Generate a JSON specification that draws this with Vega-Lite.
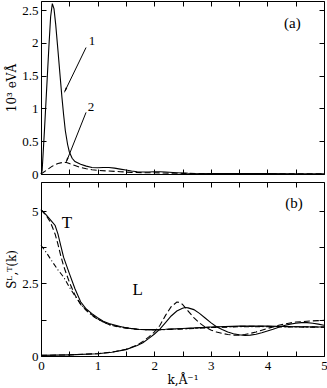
{
  "$schema": "https://vega.github.io/schema/vega-lite/v6.json",
  "padding": {"left": 5, "top": 0, "right": 0, "bottom": 0},
  "config": {
    "font": "Liberation Serif",
    "view": {"stroke": "black", "strokeWidth": 1},
    "concat": {"spacing": -5},
    "axis": {
      "domain": false, "grid": false, "tickColor": "black", "tickSize": -5,
      "labelColor": "black", "titleColor": "black",
      "labelFont": "Liberation Serif", "titleFont": "DejaVu Serif",
      "labelFontSize": 13, "titleFontSize": 12, "titleFontWeight": "normal",
      "labelFlush": false, "labelPadding": 8, "titlePadding": 3, "minExtent": 0
    },
    "text": {"font": "Liberation Serif", "color": "black"}
  },
  "datasets": {
    "a": [
      {"k": 0, "v": 0, "series": "1"}, {"k": 0.02, "v": 0.05, "series": "1"}, {"k": 0.06, "v": 0.65, "series": "1"},
      {"k": 0.1, "v": 1.3, "series": "1"}, {"k": 0.14, "v": 1.95, "series": "1"}, {"k": 0.17, "v": 2.4, "series": "1"},
      {"k": 0.2, "v": 2.6, "series": "1"}, {"k": 0.23, "v": 2.52, "series": "1"}, {"k": 0.26, "v": 2.28, "series": "1"},
      {"k": 0.3, "v": 1.88, "series": "1"}, {"k": 0.34, "v": 1.47, "series": "1"}, {"k": 0.37, "v": 1.17, "series": "1"},
      {"k": 0.4, "v": 0.9, "series": "1"}, {"k": 0.43, "v": 0.66, "series": "1"}, {"k": 0.47, "v": 0.45, "series": "1"},
      {"k": 0.5, "v": 0.34, "series": "1"}, {"k": 0.55, "v": 0.24, "series": "1"}, {"k": 0.6, "v": 0.19, "series": "1"},
      {"k": 0.7, "v": 0.15, "series": "1"}, {"k": 0.8, "v": 0.12, "series": "1"}, {"k": 0.9, "v": 0.1, "series": "1"},
      {"k": 1.0, "v": 0.095, "series": "1"}, {"k": 1.1, "v": 0.1, "series": "1"}, {"k": 1.2, "v": 0.1, "series": "1"},
      {"k": 1.3, "v": 0.09, "series": "1"}, {"k": 1.4, "v": 0.075, "series": "1"}, {"k": 1.5, "v": 0.06, "series": "1"},
      {"k": 1.6, "v": 0.045, "series": "1"}, {"k": 1.7, "v": 0.035, "series": "1"}, {"k": 1.8, "v": 0.03, "series": "1"},
      {"k": 1.9, "v": 0.03, "series": "1"}, {"k": 2.0, "v": 0.035, "series": "1"}, {"k": 2.1, "v": 0.035, "series": "1"},
      {"k": 2.2, "v": 0.03, "series": "1"}, {"k": 2.4, "v": 0.02, "series": "1"}, {"k": 2.6, "v": 0.012, "series": "1"},
      {"k": 3.0, "v": 0.008, "series": "1"}, {"k": 3.5, "v": 0.006, "series": "1"}, {"k": 4.0, "v": 0.005, "series": "1"},
      {"k": 4.5, "v": 0.004, "series": "1"}, {"k": 5.0, "v": 0.003, "series": "1"},
      {"k": 0, "v": 0, "series": "2"}, {"k": 0.1, "v": 0.06, "series": "2"}, {"k": 0.2, "v": 0.12, "series": "2"},
      {"k": 0.3, "v": 0.16, "series": "2"}, {"k": 0.4, "v": 0.18, "series": "2"}, {"k": 0.45, "v": 0.175, "series": "2"},
      {"k": 0.5, "v": 0.16, "series": "2"}, {"k": 0.6, "v": 0.13, "series": "2"}, {"k": 0.7, "v": 0.1, "series": "2"},
      {"k": 0.8, "v": 0.08, "series": "2"}, {"k": 0.9, "v": 0.065, "series": "2"}, {"k": 1.0, "v": 0.055, "series": "2"},
      {"k": 1.2, "v": 0.045, "series": "2"}, {"k": 1.4, "v": 0.035, "series": "2"}, {"k": 1.6, "v": 0.025, "series": "2"},
      {"k": 1.8, "v": 0.02, "series": "2"}, {"k": 2.0, "v": 0.018, "series": "2"}, {"k": 2.5, "v": 0.01, "series": "2"},
      {"k": 3.0, "v": 0.007, "series": "2"}, {"k": 4.0, "v": 0.004, "series": "2"}, {"k": 5.0, "v": 0.003, "series": "2"}
    ],
    "aNums": [
      {"k": 0.9, "v": 2.03, "text": "1"},
      {"k": 0.885, "v": 1.02, "text": "2"}
    ],
    "aPanel": [{"k": 4.44, "v": 2.31, "text": "(a)"}],
    "aArrows": [
      {"x1": 0.796, "y1": 1.93, "x2": 0.42, "y2": 1.26},
      {"x1": 0.796, "y1": 0.94, "x2": 0.45, "y2": 0.19}
    ],
    "aHead1": [{"k": 0.435, "v": 1.287}],
    "aHead2": [{"k": 0.462, "v": 0.221}],
    "b": [
      {"k": 0, "v": 5.05, "series": "T1"}, {"k": 0.1, "v": 4.85, "series": "T1"}, {"k": 0.2, "v": 4.62, "series": "T1"},
      {"k": 0.25, "v": 4.5, "series": "T1"}, {"k": 0.3, "v": 4.2, "series": "T1"}, {"k": 0.35, "v": 3.8, "series": "T1"},
      {"k": 0.4, "v": 3.4, "series": "T1"}, {"k": 0.5, "v": 2.85, "series": "T1"}, {"k": 0.6, "v": 2.32, "series": "T1"},
      {"k": 0.7, "v": 1.87, "series": "T1"}, {"k": 0.8, "v": 1.62, "series": "T1"}, {"k": 0.9, "v": 1.46, "series": "T1"},
      {"k": 1.0, "v": 1.32, "series": "T1"}, {"k": 1.1, "v": 1.2, "series": "T1"}, {"k": 1.2, "v": 1.12, "series": "T1"},
      {"k": 1.3, "v": 1.07, "series": "T1"}, {"k": 1.4, "v": 1.02, "series": "T1"}, {"k": 1.5, "v": 0.97, "series": "T1"},
      {"k": 1.7, "v": 0.92, "series": "T1"}, {"k": 1.9, "v": 0.91, "series": "T1"}, {"k": 2.2, "v": 0.92, "series": "T1"},
      {"k": 2.5, "v": 0.95, "series": "T1"}, {"k": 3.0, "v": 1.0, "series": "T1"}, {"k": 3.5, "v": 1.03, "series": "T1"},
      {"k": 4.0, "v": 1.03, "series": "T1"}, {"k": 4.5, "v": 1.01, "series": "T1"}, {"k": 5.0, "v": 1.0, "series": "T1"},
      {"k": 0, "v": 5.05, "series": "T2"}, {"k": 0.1, "v": 4.82, "series": "T2"}, {"k": 0.17, "v": 4.6, "series": "T2"},
      {"k": 0.25, "v": 4.2, "series": "T2"}, {"k": 0.3, "v": 3.85, "series": "T2"}, {"k": 0.35, "v": 3.45, "series": "T2"},
      {"k": 0.4, "v": 3.1, "series": "T2"}, {"k": 0.5, "v": 2.55, "series": "T2"}, {"k": 0.6, "v": 2.1, "series": "T2"},
      {"k": 0.7, "v": 1.78, "series": "T2"}, {"k": 0.8, "v": 1.58, "series": "T2"}, {"k": 0.9, "v": 1.42, "series": "T2"},
      {"k": 1.0, "v": 1.28, "series": "T2"}, {"k": 1.1, "v": 1.17, "series": "T2"}, {"k": 1.2, "v": 1.09, "series": "T2"},
      {"k": 1.4, "v": 1.0, "series": "T2"}, {"k": 1.7, "v": 0.92, "series": "T2"}, {"k": 2.0, "v": 0.9, "series": "T2"},
      {"k": 2.5, "v": 0.94, "series": "T2"}, {"k": 3.0, "v": 0.99, "series": "T2"}, {"k": 3.5, "v": 1.02, "series": "T2"},
      {"k": 4.0, "v": 1.02, "series": "T2"}, {"k": 5.0, "v": 1.0, "series": "T2"},
      {"k": 0, "v": 3.82, "series": "T3"}, {"k": 0.1, "v": 3.55, "series": "T3"}, {"k": 0.2, "v": 3.25, "series": "T3"},
      {"k": 0.3, "v": 2.97, "series": "T3"}, {"k": 0.4, "v": 2.72, "series": "T3"}, {"k": 0.5, "v": 2.38, "series": "T3"},
      {"k": 0.6, "v": 2.07, "series": "T3"}, {"k": 0.7, "v": 1.8, "series": "T3"}, {"k": 0.8, "v": 1.57, "series": "T3"},
      {"k": 0.9, "v": 1.4, "series": "T3"}, {"k": 1.0, "v": 1.27, "series": "T3"}, {"k": 1.2, "v": 1.08, "series": "T3"},
      {"k": 1.4, "v": 0.99, "series": "T3"}, {"k": 1.7, "v": 0.92, "series": "T3"}, {"k": 2.0, "v": 0.9, "series": "T3"},
      {"k": 2.5, "v": 0.93, "series": "T3"}, {"k": 3.0, "v": 0.98, "series": "T3"}, {"k": 3.5, "v": 1.01, "series": "T3"},
      {"k": 4.0, "v": 1.01, "series": "T3"}, {"k": 5.0, "v": 0.99, "series": "T3"},
      {"k": 0, "v": 0.02, "series": "L1"}, {"k": 0.5, "v": 0.04, "series": "L1"}, {"k": 1.0, "v": 0.08, "series": "L1"},
      {"k": 1.25, "v": 0.13, "series": "L1"}, {"k": 1.5, "v": 0.22, "series": "L1"}, {"k": 1.7, "v": 0.36, "series": "L1"},
      {"k": 1.8, "v": 0.46, "series": "L1"}, {"k": 1.9, "v": 0.6, "series": "L1"}, {"k": 2.0, "v": 0.75, "series": "L1"},
      {"k": 2.1, "v": 0.93, "series": "L1"}, {"k": 2.2, "v": 1.15, "series": "L1"}, {"k": 2.3, "v": 1.38, "series": "L1"},
      {"k": 2.4, "v": 1.55, "series": "L1"}, {"k": 2.5, "v": 1.65, "series": "L1"}, {"k": 2.55, "v": 1.67, "series": "L1"},
      {"k": 2.6, "v": 1.66, "series": "L1"}, {"k": 2.7, "v": 1.6, "series": "L1"}, {"k": 2.8, "v": 1.47, "series": "L1"},
      {"k": 2.9, "v": 1.31, "series": "L1"}, {"k": 3.0, "v": 1.15, "series": "L1"}, {"k": 3.1, "v": 1.01, "series": "L1"},
      {"k": 3.2, "v": 0.91, "series": "L1"}, {"k": 3.3, "v": 0.83, "series": "L1"}, {"k": 3.4, "v": 0.77, "series": "L1"},
      {"k": 3.5, "v": 0.73, "series": "L1"}, {"k": 3.6, "v": 0.71, "series": "L1"}, {"k": 3.7, "v": 0.72, "series": "L1"},
      {"k": 3.8, "v": 0.75, "series": "L1"}, {"k": 3.9, "v": 0.8, "series": "L1"}, {"k": 4.0, "v": 0.86, "series": "L1"},
      {"k": 4.1, "v": 0.92, "series": "L1"}, {"k": 4.2, "v": 0.99, "series": "L1"}, {"k": 4.3, "v": 1.05, "series": "L1"},
      {"k": 4.4, "v": 1.1, "series": "L1"}, {"k": 4.5, "v": 1.13, "series": "L1"}, {"k": 4.6, "v": 1.15, "series": "L1"},
      {"k": 4.7, "v": 1.15, "series": "L1"}, {"k": 4.8, "v": 1.13, "series": "L1"}, {"k": 4.9, "v": 1.1, "series": "L1"},
      {"k": 5.0, "v": 1.06, "series": "L1"},
      {"k": 0, "v": 0.02, "series": "L2"}, {"k": 0.5, "v": 0.04, "series": "L2"}, {"k": 1.0, "v": 0.08, "series": "L2"},
      {"k": 1.25, "v": 0.13, "series": "L2"}, {"k": 1.5, "v": 0.23, "series": "L2"}, {"k": 1.7, "v": 0.38, "series": "L2"},
      {"k": 1.8, "v": 0.5, "series": "L2"}, {"k": 1.9, "v": 0.65, "series": "L2"}, {"k": 2.0, "v": 0.82, "series": "L2"},
      {"k": 2.1, "v": 1.05, "series": "L2"}, {"k": 2.2, "v": 1.4, "series": "L2"}, {"k": 2.3, "v": 1.7, "series": "L2"},
      {"k": 2.4, "v": 1.86, "series": "L2"}, {"k": 2.45, "v": 1.85, "series": "L2"}, {"k": 2.5, "v": 1.78, "series": "L2"},
      {"k": 2.6, "v": 1.55, "series": "L2"}, {"k": 2.7, "v": 1.32, "series": "L2"}, {"k": 2.8, "v": 1.14, "series": "L2"},
      {"k": 2.9, "v": 1.0, "series": "L2"}, {"k": 3.0, "v": 0.9, "series": "L2"}, {"k": 3.1, "v": 0.83, "series": "L2"},
      {"k": 3.2, "v": 0.78, "series": "L2"}, {"k": 3.3, "v": 0.74, "series": "L2"}, {"k": 3.4, "v": 0.72, "series": "L2"},
      {"k": 3.5, "v": 0.72, "series": "L2"}, {"k": 3.6, "v": 0.74, "series": "L2"}, {"k": 3.7, "v": 0.78, "series": "L2"},
      {"k": 3.8, "v": 0.83, "series": "L2"}, {"k": 3.9, "v": 0.89, "series": "L2"}, {"k": 4.0, "v": 0.95, "series": "L2"},
      {"k": 4.1, "v": 1.0, "series": "L2"}, {"k": 4.2, "v": 1.06, "series": "L2"}, {"k": 4.3, "v": 1.1, "series": "L2"},
      {"k": 4.4, "v": 1.14, "series": "L2"}, {"k": 4.5, "v": 1.17, "series": "L2"}, {"k": 4.6, "v": 1.18, "series": "L2"},
      {"k": 4.7, "v": 1.2, "series": "L2"}, {"k": 4.8, "v": 1.21, "series": "L2"}, {"k": 4.9, "v": 1.22, "series": "L2"},
      {"k": 5.0, "v": 1.23, "series": "L2"}
    ],
    "bLetters": [
      {"k": 0.46, "v": 4.59, "text": "T"},
      {"k": 1.71, "v": 2.27, "text": "L"}
    ],
    "bPanel": [{"k": 4.47, "v": 5.26, "text": "(b)"}]
  },
  "vconcat": [
    {
      "width": 283,
      "height": 173,
      "layer": [
        {
          "data": {"name": "a"},
          "transform": [{"filter": {"field": "series", "equal": "1"}}],
          "mark": {"type": "line", "color": "black", "strokeWidth": 1.1},
          "encoding": {
            "x": {"field": "k", "type": "quantitative", "scale": {"domain": [0, 5], "nice": false},
                  "axis": {"orient": "bottom", "values": [0,0.5,1,1.5,2,2.5,3,3.5,4,4.5,5], "labels": false, "title": null}},
            "y": {"field": "v", "type": "quantitative", "scale": {"domain": [0, 2.64], "nice": false},
                  "axis": {"orient": "left", "values": [0,0.5,1,1.5,2,2.5], "format": "~g", "title": "10³ eVÅ"}}
          }
        },
        {
          "data": {"name": "a"},
          "transform": [{"filter": {"field": "series", "equal": "2"}}],
          "mark": {"type": "line", "color": "black", "strokeWidth": 1.1, "strokeDash": [6, 3]},
          "encoding": {
            "x": {"field": "k", "type": "quantitative", "axis": null},
            "y": {"field": "v", "type": "quantitative", "axis": null}
          }
        },
        {
          "data": {"name": "aNums"},
          "mark": {"type": "text", "fontSize": 13, "baseline": "middle", "align": "center"},
          "encoding": {
            "x": {"field": "k", "type": "quantitative", "scale": {"domain": [0, 5], "nice": false},
                  "axis": {"orient": "top", "values": [0,0.5,1,1.5,2,2.5,3,3.5,4,4.5,5], "labels": false, "title": null}},
            "y": {"field": "v", "type": "quantitative", "scale": {"domain": [0, 2.64], "nice": false},
                  "axis": {"orient": "right", "values": [0,0.5,1,1.5,2,2.5], "labels": false, "title": null}},
            "text": {"field": "text"}
          }
        },
        {
          "data": {"name": "aPanel"},
          "mark": {"type": "text", "fontSize": 15, "baseline": "middle", "align": "center"},
          "encoding": {
            "x": {"field": "k", "type": "quantitative", "axis": null},
            "y": {"field": "v", "type": "quantitative", "axis": null},
            "text": {"field": "text"}
          }
        },
        {
          "data": {"name": "aArrows"},
          "mark": {"type": "rule", "color": "black", "strokeWidth": 1},
          "encoding": {
            "x": {"field": "x1", "type": "quantitative", "axis": null},
            "y": {"field": "y1", "type": "quantitative", "axis": null},
            "x2": {"field": "x2"},
            "y2": {"field": "y2"}
          }
        },
        {
          "data": {"name": "aHead1"},
          "mark": {"type": "point", "shape": "wedge", "filled": true, "color": "black", "size": 45, "angle": 205.6, "opacity": 1},
          "encoding": {
            "x": {"field": "k", "type": "quantitative", "axis": null},
            "y": {"field": "v", "type": "quantitative", "axis": null}
          }
        },
        {
          "data": {"name": "aHead2"},
          "mark": {"type": "point", "shape": "wedge", "filled": true, "color": "black", "size": 45, "angle": 201.8, "opacity": 1},
          "encoding": {
            "x": {"field": "k", "type": "quantitative", "axis": null},
            "y": {"field": "v", "type": "quantitative", "axis": null}
          }
        }
      ],
      "resolve": {"axis": {"x": "independent", "y": "independent"}}
    },
    {
      "width": 283,
      "height": 174,
      "layer": [
        {
          "data": {"name": "b"},
          "transform": [{"filter": {"field": "series", "oneOf": ["T1", "L1"]}}],
          "mark": {"type": "line", "color": "black", "strokeWidth": 1.1},
          "encoding": {
            "x": {"field": "k", "type": "quantitative", "scale": {"domain": [0, 5], "nice": false},
                  "axis": {"orient": "bottom", "values": [0,0.5,1,1.5,2,2.5,3,3.5,4,4.5,5], "labelExpr": "datum.value % 1 === 0 ? format(datum.value, 'd') : ''", "title": "k,Å⁻¹", "titlePadding": 2}},
            "y": {"field": "v", "type": "quantitative", "scale": {"domain": [0, 6], "nice": false},
                  "axis": {"orient": "left", "values": [0,1.25,2.5,3.75,5], "labelExpr": "datum.value % 2.5 === 0 ? format(datum.value, '~g') : ''", "title": "Sᴸ,ᵀ(k)"}},
            "detail": {"field": "series", "type": "nominal"}
          }
        },
        {
          "data": {"name": "b"},
          "transform": [{"filter": {"field": "series", "oneOf": ["T2", "L2"]}}],
          "mark": {"type": "line", "color": "black", "strokeWidth": 1.1, "strokeDash": [6, 3]},
          "encoding": {
            "x": {"field": "k", "type": "quantitative", "axis": null},
            "y": {"field": "v", "type": "quantitative", "axis": null},
            "detail": {"field": "series", "type": "nominal"}
          }
        },
        {
          "data": {"name": "b"},
          "transform": [{"filter": {"field": "series", "equal": "T3"}}],
          "mark": {"type": "line", "color": "black", "strokeWidth": 1.1, "strokeDash": [5, 2.5, 1, 2.5]},
          "encoding": {
            "x": {"field": "k", "type": "quantitative", "axis": null},
            "y": {"field": "v", "type": "quantitative", "axis": null}
          }
        },
        {
          "data": {"name": "bLetters"},
          "mark": {"type": "text", "fontSize": 17, "baseline": "middle", "align": "center"},
          "encoding": {
            "x": {"field": "k", "type": "quantitative", "scale": {"domain": [0, 5], "nice": false},
                  "axis": {"orient": "top", "values": [0,0.5,1,1.5,2,2.5,3,3.5,4,4.5,5], "labels": false, "title": null}},
            "y": {"field": "v", "type": "quantitative", "scale": {"domain": [0, 6], "nice": false},
                  "axis": {"orient": "right", "values": [0,1.25,2.5,3.75,5], "labels": false, "title": null}},
            "text": {"field": "text"}
          }
        },
        {
          "data": {"name": "bPanel"},
          "mark": {"type": "text", "fontSize": 15, "baseline": "middle", "align": "center"},
          "encoding": {
            "x": {"field": "k", "type": "quantitative", "axis": null},
            "y": {"field": "v", "type": "quantitative", "axis": null},
            "text": {"field": "text"}
          }
        }
      ],
      "resolve": {"axis": {"x": "independent", "y": "independent"}}
    }
  ]
}
